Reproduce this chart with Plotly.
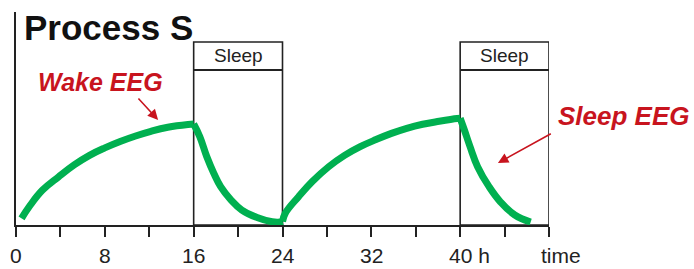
import plotly.graph_objects as go

# ---- data (hours, relative Process S level) ----
wake1_h = [0.5, 1.23, 2.39, 3.85, 5.24, 6.62, 8.0, 9.38, 10.77, 12.15, 13.67, 15.48, 16.0]
wake1_s = [0.031, 0.089, 0.164, 0.227, 0.282, 0.327, 0.362, 0.392, 0.418, 0.440, 0.459, 0.472, 0.474]
sleep1_h = [16.0, 16.55, 17.18, 17.81, 18.43, 19.37, 20.34, 21.71, 23.08, 23.83, 24.0]
sleep1_s = [0.474, 0.415, 0.321, 0.243, 0.180, 0.117, 0.070, 0.035, 0.015, 0.014, 0.016]
wake2_h = [24.0, 24.25, 25.45, 26.66, 28.17, 29.59, 31.0, 32.42, 33.81, 35.19, 36.62, 38.11, 39.73, 40.0]
wake2_s = [0.016, 0.055, 0.133, 0.203, 0.274, 0.327, 0.368, 0.401, 0.430, 0.454, 0.473, 0.487, 0.500, 0.501]
sleep2_h = [40.0, 40.38, 40.89, 41.57, 42.6, 43.62, 44.92, 46.35]
sleep2_s = [0.501, 0.446, 0.368, 0.274, 0.180, 0.109, 0.047, 0.014]

sleep_starts = [16, 40]
sleep_ends = [24, 48]
tick_hours = [0, 4, 8, 12, 16, 20, 24, 28, 32, 36, 40, 44, 48]
label_hours = [0, 8, 16, 24, 32]
label_texts = ["0", "8", "16", "24", "32"]

GREEN = "#00B050"
RED = "#C8141E"
W, H = 694, 269
L, R, T, B = 16, 145, 12, 44

fig = go.Figure()
for hx, sy in [(wake1_h, wake1_s), (sleep1_h, sleep1_s), (wake2_h, wake2_s), (sleep2_h, sleep2_s)]:
    fig.add_trace(go.Scatter(x=hx, y=sy, mode="lines",
                             line=dict(color=GREEN, width=7, shape="spline", smoothing=1.2),
                             showlegend=False, hoverinfo="skip"))

shapes = []
annos = []
BOX_TOP = 0.859
HEAD = 0.728
for s0, s1 in zip(sleep_starts, sleep_ends):
    shapes.append(dict(type="rect", xref="x", yref="y", x0=s0, x1=s1, y0=0, y1=BOX_TOP,
                       line=dict(color="#222", width=1.6), layer="below"))
    shapes.append(dict(type="line", xref="x", yref="y", x0=s0, x1=s1, y0=HEAD, y1=HEAD,
                       line=dict(color="#222", width=2)))
    annos.append(dict(x=(s0 + s1) / 2, y=(BOX_TOP + HEAD) / 2, xref="x", yref="y",
                      text="Sleep", showarrow=False, font=dict(size=19, color="#222"),
                      xanchor="center", yanchor="middle"))

LBL_Y = -0.145
for hv, tx in zip(label_hours, label_texts):
    annos.append(dict(x=hv, y=LBL_Y, xref="x", yref="paper", text=tx, showarrow=False,
                      font=dict(size=21, color="#222"), xanchor="center", yanchor="middle"))
annos.append(dict(x=40, y=LBL_Y, xref="x", yref="paper", text="40 h", showarrow=False,
                  font=dict(size=21, color="#222"), xanchor="left", yanchor="middle", xshift=-13))
annos.append(dict(x=48, y=LBL_Y, xref="x", yref="paper", text="time", showarrow=False,
                  font=dict(size=21, color="#222"), xanchor="left", yanchor="middle", xshift=-10))

# title
annos.append(dict(x=0.011, y=0.925, xref="paper", yref="paper", text="<b>Process S</b>",
                  showarrow=False, font=dict(size=35, color="#111"),
                  xanchor="left", yanchor="middle"))
# Wake EEG label + arrow
annos.append(dict(x=7.6, y=0.672, xref="x", yref="y", text="<b><i>Wake EEG</i></b>",
                  showarrow=False, font=dict(size=25, color=RED), xanchor="center", yanchor="middle"))
annos.append(dict(x=12.8, y=0.493, xref="x", yref="y", ax=10.9, ay=0.601, axref="x", ayref="y",
                  text="", showarrow=True, arrowhead=2, arrowsize=1.3, arrowwidth=1.6,
                  arrowcolor=RED))
# Sleep EEG label + arrow
annos.append(dict(x=(692 - L) / (W - L - R), y=(225 - 116) / 213, xref="paper", yref="paper",
                  text="<b><i>Sleep EEG</i></b>", showarrow=False,
                  font=dict(size=26, color=RED), xanchor="right", yanchor="middle"))
annos.append(dict(x=43.4, y=0.291, xref="x", yref="y", ax=48.3, ay=0.432, axref="x", ayref="y",
                  text="", showarrow=True, arrowhead=2, arrowsize=1.3, arrowwidth=1.6,
                  arrowcolor=RED))

fig.update_layout(
    width=W, height=H, margin=dict(l=L, r=R, t=T, b=B),
    paper_bgcolor="white", plot_bgcolor="white",
    font=dict(family="Liberation Sans, Arial, sans-serif"),
    shapes=shapes, annotations=annos,
    xaxis=dict(range=[0, 48], tickvals=tick_hours, ticktext=[""] * len(tick_hours),
               ticks="outside", ticklen=10, tickwidth=2, tickcolor="#222",
               showline=True, linecolor="#222", linewidth=2, showgrid=False, zeroline=False,
               fixedrange=True),
    yaxis=dict(range=[0, 1], showticklabels=False, ticks="", showline=True,
               linecolor="#222", linewidth=2, showgrid=False, zeroline=False, fixedrange=True),
)
fig.write_html("out.html", config={"displayModeBar": False},
               post_script="document.body.style.margin='0';document.body.style.overflow='hidden';")
